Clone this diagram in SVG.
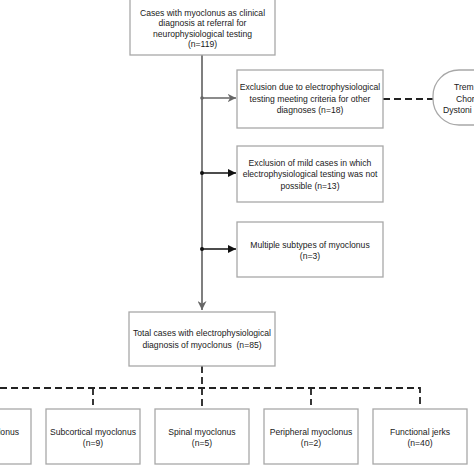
<svg xmlns="http://www.w3.org/2000/svg" width="474" height="474" viewBox="0 0 474 474">
<defs>
<style>
.box{fill:#fff;stroke:#a8a8a8;stroke-width:1.3}
.t{font-family:"Liberation Sans",Arial,sans-serif;font-size:8.6px;fill:#1a1a1a;text-anchor:middle;white-space:pre}
.ts{font-family:"Liberation Sans",Arial,sans-serif;font-size:8.6px;fill:#1a1a1a;white-space:pre}
.main{stroke:#555;stroke-width:1.5;fill:none}
.arr{stroke:#111;stroke-width:1.6;fill:none}
.arrg{stroke:#666;stroke-width:1.4;fill:none}
.dash{stroke:#222;stroke-width:1.8;fill:none;stroke-dasharray:7 4}
</style>
<marker id="mk" viewBox="0 0 10 10" refX="10" refY="5" markerWidth="5" markerHeight="5" orient="auto" markerUnits="strokeWidth"><path d="M0,0 L10,5 L0,10 z" fill="#111"/></marker>
<marker id="mkg" viewBox="0 0 10 10" refX="10" refY="5" markerWidth="6" markerHeight="6" orient="auto" markerUnits="strokeWidth"><path d="M0,0 L10,5 L0,10 L3,5 z" fill="#666"/></marker>
</defs>
<rect width="474" height="474" fill="#fff"/>
<g id="connectors">
<line class="main" x1="202" y1="55" x2="202" y2="310" marker-end="url(#mkg)"/>
<line class="arrg" x1="202" y1="98" x2="236" y2="98" marker-end="url(#mkg)"/>
<line class="arr" x1="202" y1="173" x2="236" y2="173" marker-end="url(#mk)"/>
<line class="arr" x1="202" y1="249" x2="236" y2="249" marker-end="url(#mk)"/>
<circle cx="202" cy="98" r="1.8" fill="#666"/>
<circle cx="202" cy="173" r="2" fill="#111"/>
<circle cx="202" cy="249" r="2" fill="#111"/>
<line class="dash" x1="383" y1="99" x2="433" y2="99"/>
<line class="dash" x1="202" y1="366" x2="202" y2="409"/>
<path class="dash" d="M0,388 H420 V408"/>
<line class="dash" x1="93" y1="388" x2="93" y2="405"/>
<line class="dash" x1="311" y1="388" x2="311" y2="405"/>
</g>
<g id="n-start">
<rect class="box" x="130" y="-5" width="145" height="60"/>
<text class="t" x="202.5" y="15.5">Cases with myoclonus as clinical</text>
<text class="t" x="202.5" y="26">diagnosis at referral for</text>
<text class="t" x="202.5" y="36.5">neurophysiological testing</text>
<text class="t" x="202.5" y="47">(n=119)</text>
</g>
<g id="n-excl1">
<rect class="box" x="237" y="70" width="146" height="58"/>
<text class="t" x="310" y="90">Exclusion due to electrophysiological</text>
<text class="t" x="310" y="101.5">testing meeting criteria for other</text>
<text class="t" x="310" y="113">diagnoses (n=18)</text>
</g>
<g id="n-other">
<rect class="box" x="433" y="70" width="80" height="55" rx="26" ry="26"/>
<text class="ts" x="454" y="90">Trem</text>
<text class="ts" x="456" y="101.5">Chor</text>
<text class="ts" x="443" y="113">Dystoni</text>
</g>
<g id="n-excl2">
<rect class="box" x="237" y="146" width="146" height="56"/>
<text class="t" x="310" y="166">Exclusion of mild cases in which</text>
<text class="t" x="310" y="177">electrophysiological testing was not</text>
<text class="t" x="310" y="188.5">possible (n=13)</text>
</g>
<g id="n-multi">
<rect class="box" x="237" y="222" width="146" height="55"/>
<text class="t" x="310" y="247.5">Multiple subtypes of myoclonus</text>
<text class="t" x="310" y="258.5">(n=3)</text>
</g>
<g id="n-total">
<rect class="box" x="129" y="312" width="146" height="54"/>
<text class="t" x="202" y="336">Total cases with electrophysiological</text>
<text class="t" x="202" y="347.5">diagnosis of myoclonus  (n=85)</text>
</g>
<g id="n-cortical">
<rect class="box" x="-63" y="409" width="94" height="55"/>
<text class="ts" x="19" y="435" text-anchor="end">lonus</text>
</g>
<g id="n-subcortical">
<rect class="box" x="46" y="409" width="94" height="55"/>
<text class="t" x="93" y="435">Subcortical myoclonus</text>
<text class="t" x="93" y="445.5">(n=9)</text>
</g>
<g id="n-spinal">
<rect class="box" x="155" y="409" width="94" height="55"/>
<text class="t" x="202" y="435">Spinal myoclonus</text>
<text class="t" x="202" y="445.5">(n=5)</text>
</g>
<g id="n-peripheral">
<rect class="box" x="264" y="409" width="94" height="55"/>
<text class="t" x="311" y="435">Peripheral myoclonus</text>
<text class="t" x="311" y="445.5">(n=2)</text>
</g>
<g id="n-functional">
<rect class="box" x="373" y="409" width="94" height="55"/>
<text class="t" x="420" y="435">Functional jerks</text>
<text class="t" x="420" y="445.5">(n=40)</text>
</g>
</svg>
